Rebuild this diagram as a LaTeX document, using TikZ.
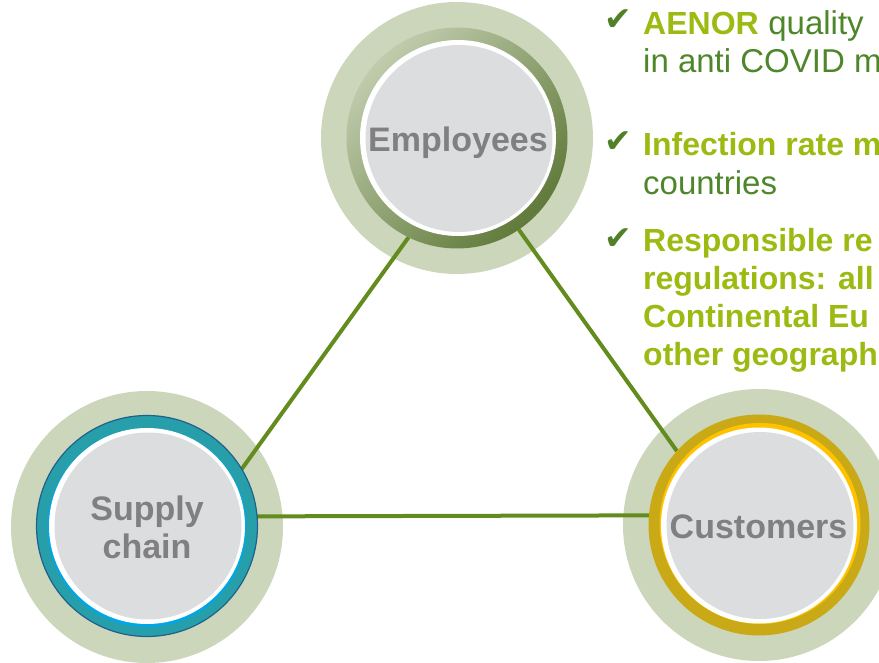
\documentclass[tikz,border=0pt]{standalone}
\usepackage{fontspec}
\setmainfont{Liberation Sans}
\newfontfamily\symfont{DejaVu Sans}
\usetikzlibrary{shadings}
\pgfdeclarelayer{back}
\pgfdeclarelayer{links}
\pgfsetlayers{back,links,main}
\definecolor{sage}{RGB}{204,214,187}
\definecolor{sagelight}{RGB}{192,203,172}
\definecolor{olivedark}{RGB}{96,122,58}
\definecolor{teal}{RGB}{39,159,171}
\definecolor{tealedge}{RGB}{34,96,140}
\definecolor{cyanline}{RGB}{0,166,230}
\definecolor{gold}{RGB}{201,170,22}
\definecolor{goldlight}{RGB}{255,194,0}
\definecolor{discgray}{RGB}{220,221,223}
\definecolor{labelgray}{RGB}{128,128,128}
\definecolor{linkgreen}{RGB}{98,140,30}
\definecolor{limegreen}{RGB}{155,187,18}
\definecolor{textgreen}{RGB}{78,134,42}
\definecolor{tickgreen}{RGB}{80,128,40}
\tikzset{
  halo/.style={circle, inner sep=0pt, outer sep=0pt, minimum size=272pt, fill=sage},
  ringnode/.style={circle, inner sep=0pt, outer sep=0pt, minimum size=221pt},
  whitedisc/.style={circle, inner sep=0pt, outer sep=0pt, minimum size=196pt, fill=white},
  disc/.style={circle, inner sep=0pt, outer sep=0pt, minimum size=187pt, fill=discgray},
  label/.style={font=\fontsize{34}{38}\selectfont\bfseries, text=labelgray, inner sep=0pt, anchor=base},
  link/.style={draw=linkgreen, line width=4pt},
  tick/.style={font=\symfont\fontsize{33}{36}\selectfont, text=tickgreen, inner sep=0pt, anchor=base west},
  bullettext/.style={font=\fontsize{33}{38}\selectfont, text=textgreen, inner sep=0pt, anchor=base west},
  strong/.style={font=\fontsize{32}{38}\selectfont\bfseries, text=limegreen, inner sep=0pt, anchor=base west}
}
\begin{document}
\begin{tikzpicture}[x=1pt,y=-1pt]
\useasboundingbox (0,0) rectangle (879,663);
\clip (0,0) rectangle (879,663);

% Pale halos behind the three groups
\begin{pgfonlayer}{back}
  \node[halo] (empHalo) at (457,138) {};
  \node[halo] (supHalo) at (147,527) {};
  \node[halo] (cusHalo) at (759,525) {};
\end{pgfonlayer}

% Employees
\node[ringnode, shading=axis, top color=sagelight, bottom color=olivedark, shading angle=45] (emp) at (457,138) {};
\node[whitedisc] (empWhite) at (458,138) {};
\node[disc] (empDisc) at (459,138.5) {};
\node[label] (empText) at (458,152) {Employees};

% Supply chain
\node[ringnode, fill=teal, draw=tealedge, line width=1.2pt] (sup) at (147,526) {};
\node[circle, inner sep=0pt, outer sep=0pt, minimum size=199pt, fill=cyanline] (supCyan) at (147,527.5) {};
\node[whitedisc] (supWhite) at (147,526) {};
\node[disc] (supDisc) at (148,526) {};
\node[label] (supText1) at (147,520) {Supply};
\node[label] (supText2) at (147,558) {chain};

% Customers
\node[ringnode, fill=gold] (cus) at (759,525) {};
\node[circle, inner sep=0pt, outer sep=0pt, minimum size=201pt, fill=goldlight] (cusGold) at (760,523.5) {};
\node[whitedisc] (cusWhite) at (759,525.5) {};
\node[disc] (cusDisc) at (760,525.5) {};
\node[label] (cusText) at (758.5,538) {Customers};

% Links between the three groups
\begin{pgfonlayer}{links}
  \draw[link] (emp.-116) -- (sup.31);
  \draw[link] (emp.-56) -- (cus.138);
  \draw[link] (sup.5.7) -- (cus.175.3);
\end{pgfonlayer}

% Bullet list
\node[tick] (tick1) at (604,31) {✔};
\node[strong] (b1a) at (643,35) {AENOR};
\node[bullettext] (b1b) at (b1a.base east) {\ quality};
\node[bullettext] (b1c) at (643,73) {in anti COVID m};

\node[tick] (tick2) at (604,153) {✔};
\node[strong] (b2a) at (643,156) {Infection rate m};
\node[bullettext] (b2b) at (643,195) {countries};

\node[tick] (tick3) at (604,250) {✔};
\node[strong] (b3a) at (643,252) {Responsible re};
\node[strong] (b3b) at (643,290) {regulations: all};
\node[strong] (b3c) at (643,328) {Continental Eu};
\node[strong] (b3d) at (643,366) {other geograph};
\end{tikzpicture}
\end{document}
